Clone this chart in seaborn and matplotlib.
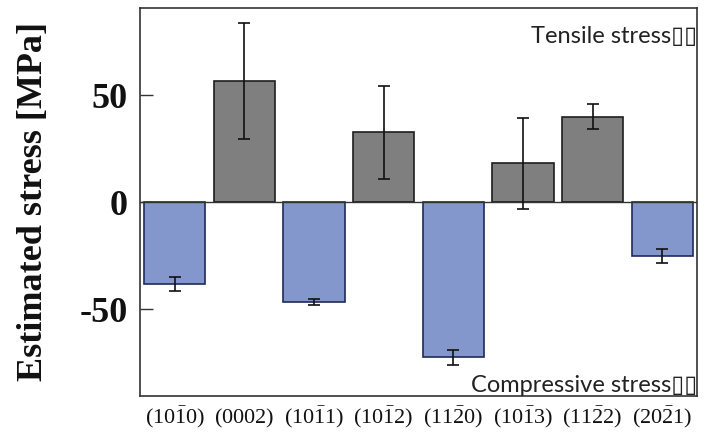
import seaborn as sns
import matplotlib.pyplot as plt
import pandas as pd

# Estimated residual stress per crystal plane
planes = [r'$(10\bar{1}0)$', r'$(0002)$', r'$(10\bar{1}1)$', r'$(10\bar{1}2)$',
          r'$(11\bar{2}0)$', r'$(10\bar{1}3)$', r'$(11\bar{2}2)$', r'$(20\bar{2}1)$']
stress = [-38.3, 56.5, -46.9, 32.7, -72.6, 18.1, 40.0, -25.1]
error = [3.3, 27.2, 1.4, 21.8, 3.5, 21.3, 5.7, 3.4]

df = pd.DataFrame({'plane': planes, 'stress': stress, 'err': error})
df['kind'] = ['Compressive' if s < 0 else 'Tensile' for s in df['stress']]

sns.set_style('white')
plt.rcParams['mathtext.fontset'] = 'custom'
plt.rcParams['mathtext.rm'] = 'Liberation Serif'
plt.rcParams['mathtext.it'] = 'Liberation Serif:italic'
plt.rcParams['mathtext.bf'] = 'Liberation Serif:bold'
plt.rcParams['text.color'] = '#111111'
plt.rcParams['xtick.color'] = '#111111'
plt.rcParams['ytick.color'] = '#111111'

fig = plt.figure(figsize=(7.09, 4.37), dpi=100)
ax = fig.add_axes([0.1975, 0.0945, 0.7855, 0.887])

sns.barplot(data=df, x='plane', y='stress', hue='kind', dodge=False, width=0.88,
            palette={'Compressive': '#8497cd', 'Tensile': '#7f7f7f'},
            saturation=1, legend=False, ax=ax)

for bar in ax.patches:
    bar.set_edgecolor('#1f2a5a' if bar.get_height() < 0 else '#1e1e1e')
    bar.set_linewidth(1.2)

ax.errorbar(range(len(df)), df['stress'], yerr=df['err'], fmt='none',
            ecolor='#111111', elinewidth=1.2, capsize=4, capthick=1.2, zorder=5)
ax.axhline(0, color='#333333', lw=1.0, zorder=1)

ax.set_xlim(-0.5, 7.5)
ax.set_ylim(-90.5, 90.7)
ax.set_yticks([-50, 0, 50])
ax.set_yticklabels(['-50', '0', '50'], family='Liberation Serif', fontweight='bold', fontsize=26)
ax.set_xticks(range(len(planes)))
ax.set_xticklabels(planes, fontsize=16)
for lab in ax.get_xticklabels():
    lab.set_verticalalignment('baseline')
ax.set_xticks([i + 0.5 for i in range(7)], minor=True)
ax.tick_params(axis='x', which='major', length=0, pad=20)
ax.tick_params(axis='x', which='minor', direction='in', length=8, width=1, color='#333333')
ax.tick_params(axis='y', direction='in', length=9, width=1, color='#333333', pad=9, left=True)
ax.set_xlabel('')
ax.set_ylabel('Estimated stress [MPa]', family='Liberation Serif', fontweight='bold', fontsize=26,
              color='#111111')
ax.yaxis.set_label_coords(-0.162, 0.5)

for sp in ax.spines.values():
    sp.set_color('#333333')
    sp.set_linewidth(1.2)

ax.text(1.0, 0.955, 'Tensile stress\u25af\u25af', transform=ax.transAxes, ha='right', va='top',
        family=['Lato', 'DejaVu Sans'], fontsize=17, color='#222222')
ax.text(1.0, 0.0, 'Compressive stress\u25af\u25af', transform=ax.transAxes, ha='right', va='bottom',
        family=['Lato', 'DejaVu Sans'], fontsize=17, color='#222222')

fig.savefig('out.png', dpi=100)
